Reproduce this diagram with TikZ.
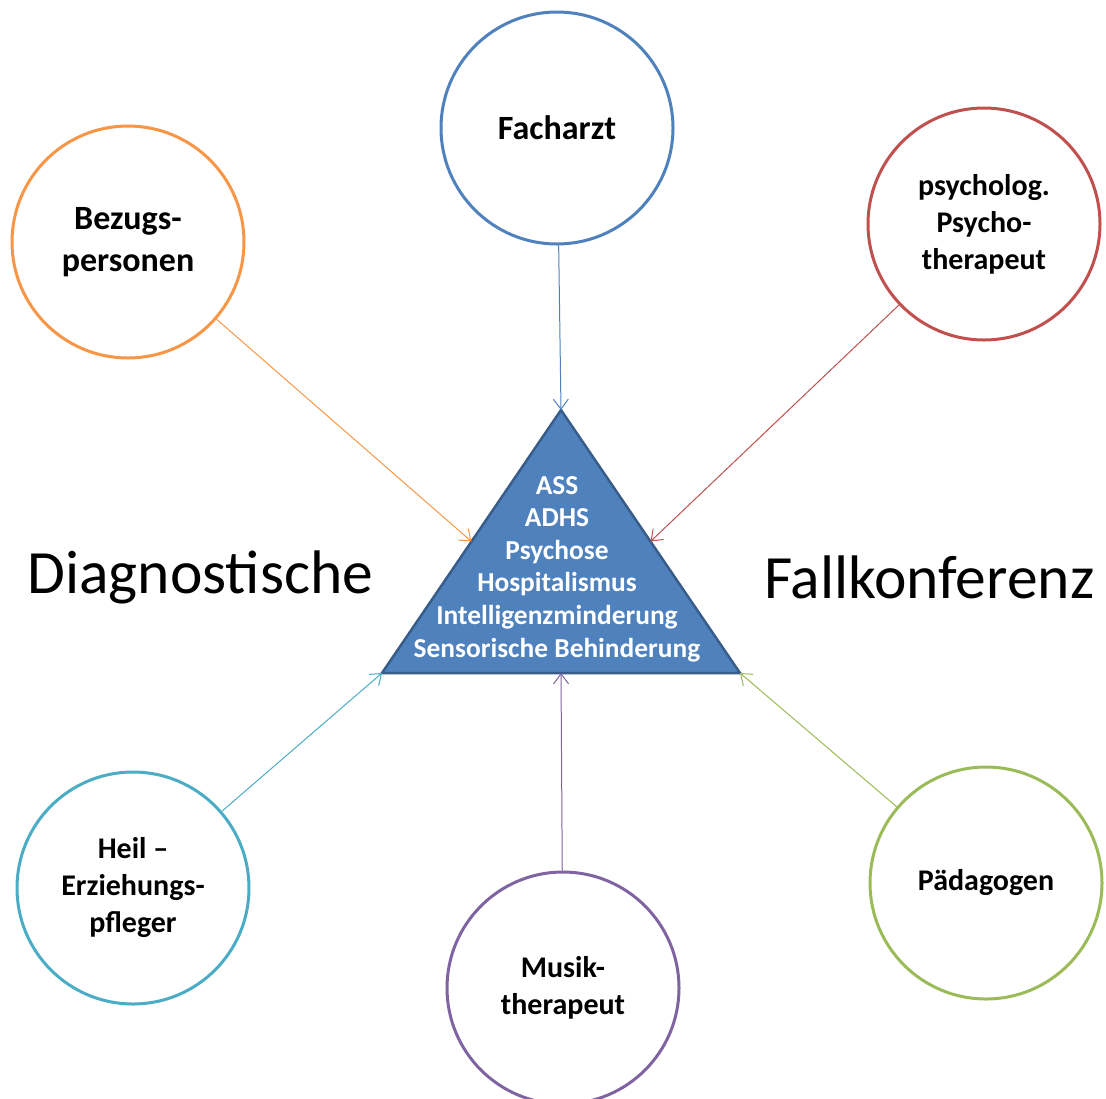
\documentclass[tikz,border=0pt]{standalone}
\usepackage{fontspec}
\setmainfont{Carlito}
\usetikzlibrary{arrows.meta}

\definecolor{tblue}{HTML}{4F81BD}
\definecolor{tblueedge}{HTML}{385D8A}
\definecolor{corange}{HTML}{F79646}
\definecolor{cred}{HTML}{C0504D}
\definecolor{cteal}{HTML}{4BACC6}
\definecolor{cpurple}{HTML}{8064A2}
\definecolor{cgreen}{HTML}{9BBB59}

\tikzset{
  role/.style={circle,draw=#1,line width=3pt,fill=white,minimum size=232pt,inner sep=0pt,
    align=center,font=\fontsize{30}{37}\selectfont\bfseries},
  bigrole/.style={role=#1,font=\fontsize{34}{42}\selectfont\bfseries},
  feed/.style={draw=#1,line width=1pt,-{Straight Barb[length=10pt,width=15pt]}}
}

\begin{document}
\begin{tikzpicture}[x=1pt,y=-1pt]
  \useasboundingbox (0,0) rectangle (1106,1098);

  % triangle in the middle
  \coordinate (tapex) at (561,410);
  \coordinate (tleft) at (382,673);
  \coordinate (tright) at (740,673);
  \coordinate (tbase) at (561,673);
  \coordinate (tlside) at (471.5,541.5);
  \coordinate (trside) at (650.5,541.5);
  \draw[tblueedge,line width=2.5pt,fill=tblue,line join=miter] (tapex) -- (tleft) -- (tright) -- cycle;
  \node[text=white,align=center,font=\fontsize{27.4}{32.6}\selectfont\bfseries] (diag) at (557,569)
    {ASS\\ADHS\\Psychose\\Hospitalismus\\Intelligenzminderung\\Sensorische Behinderung};

  \node[font=\fontsize{61.5}{70}\selectfont,anchor=west] (dlabel) at (24,577) {Diagnostische};
  \node[font=\fontsize{61.5}{70}\selectfont,anchor=east] (flabel) at (1098,577) {Fallkonferenz};

  % the people around it
  \node[bigrole=tblue] (fach) at (557,128) {Facharzt};
  \node[bigrole=corange] (bezug) at (128,242) {Bezugs-\\personen};
  \node[role=cred] (psych) at (984,224) {psycholog.\\Psycho-\\therapeut};
  \node[role=cteal] (heil) at (133,888) {Heil --\\Erziehungs-\\pfleger};
  \node[role=cpurple] (musik) at (563,988) {Musik-\\therapeut};
  \node[role=cgreen] (paed) at (986,883) {Pädagogen};

  \draw[feed=tblue] (fach) -- (tapex);
  \draw[feed=corange] (bezug) -- (tlside);
  \draw[feed=cred] (psych) -- (trside);
  \draw[feed=cteal] (heil) -- (tleft);
  \draw[feed=cpurple] (musik) -- (tbase);
  \draw[feed=cgreen] (paed) -- (tright);
\end{tikzpicture}
\end{document}
